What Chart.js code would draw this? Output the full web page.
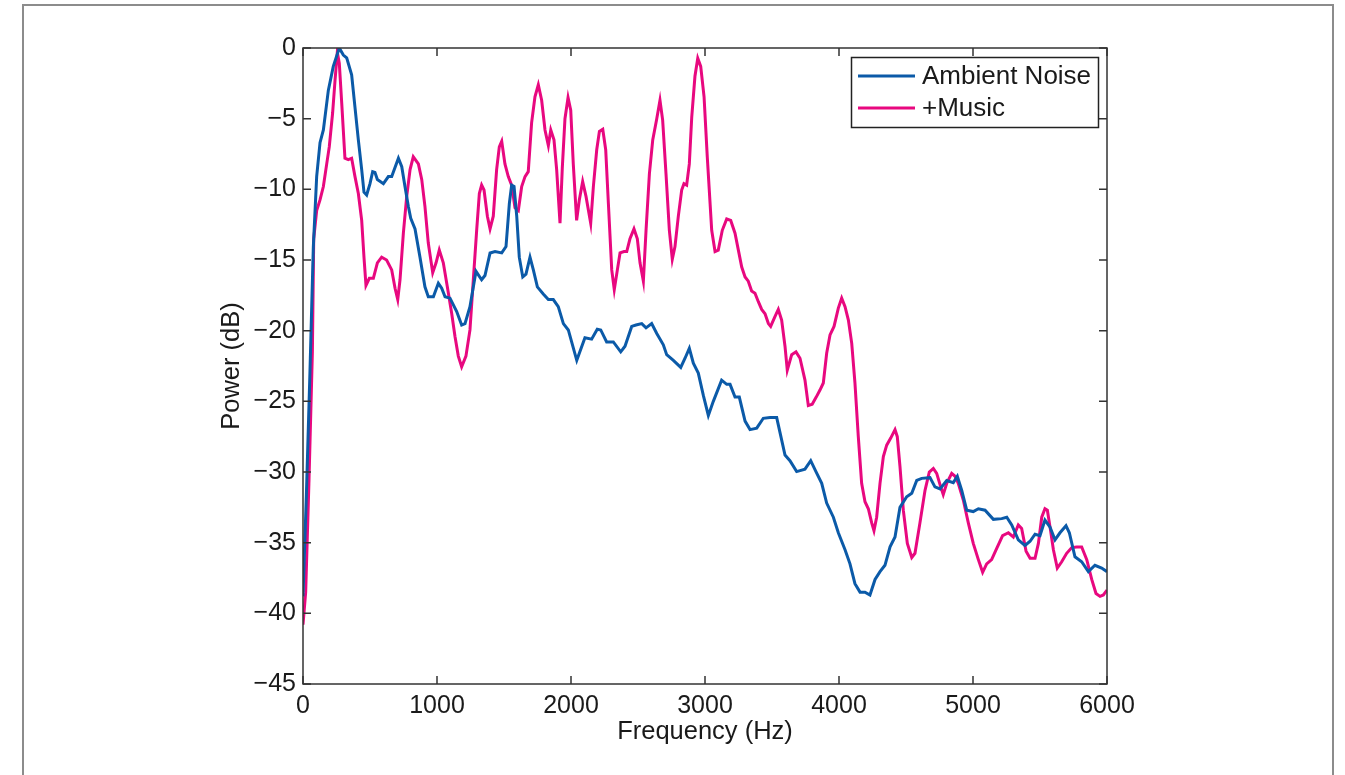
<!DOCTYPE html>
<html>
<head>
<meta charset="utf-8">
<title>Ambient Noise vs +Music</title>
<script src="https://cdn.jsdelivr.net/npm/chart.js@4.4.1/dist/chart.umd.min.js"></script>
<style>
  html, body { margin: 0; padding: 0; background: #fff; }
  #wrap { position: relative; width: 1345px; height: 775px; overflow: hidden; }
  #frame { position: absolute; left: 22px; top: 4px; width: 1308px; height: 800px;
           border: 2px solid #8c8c8c; border-bottom: none; }
  canvas { position: absolute; left: 0; top: 0; }
</style>
</head>
<body>
<div id="wrap">
  <div id="frame"></div>
  <canvas id="psd" width="1345" height="775"></canvas>
</div>
<script>
// ---- data ----
const freqAmbient = [0, 25, 52, 77, 102, 127, 152, 189, 226, 271, 301, 326, 363, 388, 413, 438, 455, 475, 500, 520,
  537, 555, 600, 637, 662, 712, 737, 761, 786, 804, 836, 873, 910, 935, 973, 1010, 1035, 1060, 1097, 1147,
  1184, 1209, 1246, 1291, 1333, 1358, 1396, 1433, 1483, 1515, 1540, 1557, 1575, 1595, 1614, 1640, 1664, 1694, 1719, 1749,
  1793, 1831, 1868, 1905, 1943, 1980, 2043, 2104, 2154, 2196, 2222, 2266, 2316, 2371, 2403, 2453, 2485, 2528, 2560, 2602,
  2640, 2689, 2714, 2764, 2819, 2851, 2883, 2913, 2950, 2988, 3025, 3062, 3124, 3162, 3187, 3224, 3256, 3299, 3336, 3386,
  3435, 3485, 3535, 3597, 3634, 3684, 3746, 3789, 3828, 3871, 3908, 3958, 3995, 4045, 4082, 4119, 4157, 4194, 4231, 4269,
  4306, 4343, 4381, 4418, 4455, 4505, 4543, 4580, 4617, 4679, 4716, 4754, 4804, 4853, 4883, 4916, 4953, 5002, 5040, 5090,
  5152, 5214, 5252, 5289, 5338, 5388, 5426, 5463, 5500, 5537, 5575, 5612, 5649, 5694, 5719, 5761, 5811, 5861, 5910, 5960, 6000];
const dbAmbient = [-38.8, -31.7, -22.9, -14.1, -9.1, -6.7, -5.8, -3.0, -1.3, 0, -0.5, -0.7, -1.9, -4.2, -6.5, -8.6, -10.2, -10.4, -9.6, -8.75,
  -8.8, -9.3, -9.6, -9.1, -9.1, -7.8, -8.4, -9.8, -11.2, -12.05, -12.8, -14.8, -16.9, -17.6, -17.6, -16.65, -17.0, -17.6, -17.7, -18.65,
  -19.6, -19.5, -18.3, -15.8, -16.4, -16.1, -14.5, -14.4, -14.5, -14.05, -11.0, -9.7, -9.8, -11.9, -14.8, -16.2, -16.0, -14.8, -15.7, -16.9,
  -17.4, -17.8, -17.8, -18.3, -19.5, -19.95, -22.1, -20.5, -20.6, -19.9, -19.95, -20.8, -20.8, -21.5, -21.1, -19.7, -19.6, -19.5, -19.8, -19.5,
  -20.2, -21.0, -21.7, -22.1, -22.6, -21.95, -21.25, -22.3, -23.0, -24.6, -26.0, -25.0, -23.5, -23.8, -23.8, -24.7, -24.7, -26.4, -27.0, -26.9,
  -26.2, -26.15, -26.15, -28.8, -29.2, -29.97, -29.8, -29.2, -29.97, -30.8, -32.2, -33.2, -34.3, -35.5, -36.5, -37.9, -38.5, -38.5, -38.7, -37.6,
  -37.05, -36.6, -35.3, -34.6, -32.5, -31.75, -31.5, -30.6, -30.45, -30.4, -31.05, -31.2, -30.6, -30.75, -30.3, -31.3, -32.7, -32.8, -32.6, -32.7,
  -33.35, -33.3, -33.2, -33.75, -34.8, -35.2, -34.9, -34.4, -34.5, -33.4, -33.9, -34.8, -34.3, -33.8, -34.3, -36.0, -36.35, -37.05, -36.6, -36.8, -37.05];

const freqMusic = [0, 20, 45, 70, 80, 102, 127, 152, 177, 196, 221, 239, 256, 271, 289, 313, 338, 363, 388, 413,
  438, 455, 470, 495, 525, 555, 587, 624, 662, 687, 707, 724, 749, 774, 799, 823, 861, 886, 910, 935,
  968, 993, 1017, 1047, 1077, 1110, 1134, 1159, 1184, 1216, 1246, 1271, 1296, 1316, 1333, 1351, 1376, 1396, 1420, 1445,
  1465, 1483, 1507, 1532, 1557, 1582, 1607, 1632, 1657, 1681, 1706, 1731, 1756, 1781, 1806, 1831, 1849, 1873, 1893, 1918,
  1935, 1955, 1978, 1998, 2017, 2042, 2062, 2087, 2112, 2147, 2167, 2192, 2212, 2237, 2259, 2279, 2304, 2323, 2346, 2366,
  2396, 2416, 2440, 2470, 2495, 2515, 2540, 2560, 2585, 2610, 2640, 2664, 2684, 2709, 2734, 2756, 2776, 2801, 2826, 2843,
  2863, 2883, 2901, 2925, 2946, 2968, 2993, 3017, 3050, 3075, 3099, 3129, 3162, 3192, 3224, 3249, 3274, 3299, 3323, 3348,
  3373, 3398, 3423, 3448, 3473, 3490, 3522, 3547, 3572, 3597, 3614, 3647, 3679, 3709, 3746, 3771, 3800, 3830, 3858, 3883,
  3908, 3933, 3963, 3995, 4020, 4045, 4070, 4095, 4119, 4144, 4169, 4194, 4219, 4244, 4261, 4281, 4306, 4331, 4356, 4386,
  4418, 4435, 4455, 4480, 4510, 4543, 4567, 4604, 4642, 4674, 4704, 4729, 4759, 4778, 4804, 4841, 4866, 4890, 4928, 4965,
  5002, 5040, 5072, 5102, 5139, 5177, 5221, 5264, 5301, 5338, 5363, 5396, 5426, 5463, 5488, 5513, 5537, 5555, 5575, 5600,
  5629, 5662, 5699, 5737, 5774, 5811, 5849, 5886, 5918, 5948, 5973, 6000];
const dbMusic = [-40.8, -38.5, -30.5, -21.5, -13.5, -11.5, -10.75, -9.8, -8.2, -7.0, -4.6, -2.3, -0.3, -1.1, -3.9, -7.8, -7.9, -7.8, -9.1, -10.3,
  -12.2, -14.8, -16.8, -16.3, -16.3, -15.2, -14.8, -15.0, -15.7, -17.0, -17.8, -16.4, -13.1, -10.5, -8.6, -7.7, -8.2, -9.3, -11.2, -13.8,
  -15.9, -15.2, -14.3, -15.2, -16.9, -18.8, -20.4, -21.8, -22.55, -21.8, -19.95, -16.4, -12.9, -10.3, -9.7, -10.05, -11.9, -12.8, -11.9, -8.6,
  -7.0, -6.6, -8.2, -9.1, -9.7, -11.3, -11.5, -9.8, -9.1, -8.75, -5.3, -3.45, -2.6, -3.7, -5.8, -6.9, -5.8, -6.5, -8.6, -12.4,
  -8.5, -5.0, -3.5, -4.4, -8.2, -12.2, -10.75, -9.45, -10.5, -12.4, -9.8, -7.2, -5.9, -5.75, -7.2, -11.0, -15.7, -17.1, -15.7, -14.5,
  -14.4, -14.4, -13.5, -12.8, -13.5, -15.2, -16.5, -12.9, -8.9, -6.5, -5.0, -3.7, -5.1, -8.9, -12.9, -14.95, -14.05, -11.9, -10.05, -9.6,
  -9.7, -8.2, -4.9, -2.0, -0.73, -1.3, -3.45, -7.7, -12.9, -14.4, -14.3, -12.9, -12.1, -12.2, -13.1, -14.3, -15.5, -16.2, -16.5, -17.2,
  -17.35, -17.95, -18.5, -18.8, -19.5, -19.7, -19.0, -18.5, -19.25, -21.1, -22.8, -21.7, -21.5, -21.95, -23.5, -25.3, -25.2, -24.7, -24.2, -23.7,
  -21.6, -20.3, -19.7, -18.4, -17.7, -18.3, -19.25, -20.9, -23.7, -27.5, -30.8, -32.1, -32.6, -33.6, -34.15, -33.2, -30.8, -28.9, -28.1, -27.6,
  -27.0, -27.5, -29.6, -32.7, -35.05, -36.05, -35.75, -33.6, -31.3, -30.0, -29.75, -30.1, -31.05, -31.6, -30.8, -30.1, -30.3, -30.8, -32.0, -33.6,
  -35.05, -36.2, -37.1, -36.5, -36.2, -35.4, -34.5, -34.3, -34.6, -33.75, -34.0, -35.6, -36.1, -36.1, -35.05, -33.2, -32.6, -32.7, -33.9, -35.5,
  -36.8, -36.35, -35.75, -35.35, -35.3, -35.3, -36.2, -37.6, -38.6, -38.8, -38.7, -38.35];

const xTicks = [0, 1000, 2000, 3000, 4000, 5000, 6000];
const yTicks = [0, -5, -10, -15, -20, -25, -30, -35, -40, -45];
const seriesNames = ['Ambient Noise', '+Music'];
const seriesColors = ['#0b5aa8', '#e8087f'];

const toPoints = (xs, ys) => xs.map((x, i) => ({ x, y: ys[i] }));

// MATLAB style box with inward ticks + legend inside the axes
const matlabAxes = {
  id: 'matlabAxes',
  afterDatasetsDraw(chart) {
    const { ctx, chartArea: a, scales } = chart;
    const tl = 8;
    ctx.save();
    ctx.strokeStyle = '#333';
    ctx.lineWidth = 1.5;
    ctx.strokeRect(a.left, a.top, a.right - a.left, a.bottom - a.top);
    ctx.beginPath();
    xTicks.forEach(v => {
      const px = scales.x.getPixelForValue(v);
      ctx.moveTo(px, a.bottom); ctx.lineTo(px, a.bottom - tl);
      ctx.moveTo(px, a.top); ctx.lineTo(px, a.top + tl);
    });
    yTicks.forEach(v => {
      const py = scales.y.getPixelForValue(v);
      ctx.moveTo(a.left, py); ctx.lineTo(a.left + tl, py);
      ctx.moveTo(a.right, py); ctx.lineTo(a.right - tl, py);
    });
    ctx.stroke();

    // legend
    const lx = 851, ly = 57, lw = 247, lh = 70;
    ctx.fillStyle = '#fff';
    ctx.fillRect(lx, ly, lw, lh);
    ctx.strokeStyle = '#222';
    ctx.lineWidth = 1.5;
    ctx.strokeRect(lx + 0.5, ly + 0.5, lw, lh);
    ctx.font = "26px 'Liberation Sans', Arial, sans-serif";
    ctx.textBaseline = 'middle';
    ctx.textAlign = 'left';
    chart.data.datasets.forEach((ds, i) => {
      const y = ly + 19 + i * 32;
      ctx.strokeStyle = ds.borderColor;
      ctx.lineWidth = 3;
      ctx.beginPath();
      ctx.moveTo(lx + 7, y); ctx.lineTo(lx + 64, y);
      ctx.stroke();
      ctx.fillStyle = '#1a1a1a';
      ctx.fillText(ds.label, lx + 71, y + 1);
    });
    ctx.restore();
  }
};

Chart.defaults.font.family = "'Liberation Sans', Arial, sans-serif";
Chart.defaults.font.size = 25;
Chart.defaults.color = '#1a1a1a';

new Chart(document.getElementById('psd'), {
  type: 'line',
  data: {
    datasets: [
      { label: seriesNames[0], data: toPoints(freqAmbient, dbAmbient), borderColor: seriesColors[0] },
      { label: seriesNames[1], data: toPoints(freqMusic, dbMusic), borderColor: seriesColors[1] }
    ]
  },
  options: {
    responsive: false,
    animation: false,
    datasets: { line: { borderWidth: 3, pointRadius: 0, tension: 0, fill: false } },
    layout: { padding: { left: 212.7, top: 48, right: 238, bottom: 23.7 } },
    plugins: { legend: { display: false }, tooltip: { enabled: false } },
    scales: {
      x: {
        type: 'linear', min: 0, max: 6000,
        grid: { display: false, drawTicks: false },
        border: { display: false },
        afterBuildTicks: s => { s.ticks = xTicks.map(v => ({ value: v })); },
        afterFit: s => { s.height = 67.3; },
        ticks: { padding: 7, maxRotation: 0, autoSkip: false, callback: v => String(v) },
        title: { display: true, text: 'Frequency (Hz)', padding: 4, font: { size: 25.5 } }
      },
      y: {
        type: 'linear', min: -45, max: 0,
        grid: { display: false, drawTicks: false },
        border: { display: false },
        afterBuildTicks: s => { s.ticks = yTicks.map(v => ({ value: v })); },
        afterFit: s => { s.width = 90.3; },
        ticks: { padding: 7, autoSkip: false, callback: v => (v < 0 ? '\u2212' + Math.abs(v) : String(v)) },
        title: { display: true, text: 'Power (dB)', padding: 4, font: { size: 25.5 } }
      }
    }
  },
  plugins: [matlabAxes]
});
</script>
</body>
</html>
